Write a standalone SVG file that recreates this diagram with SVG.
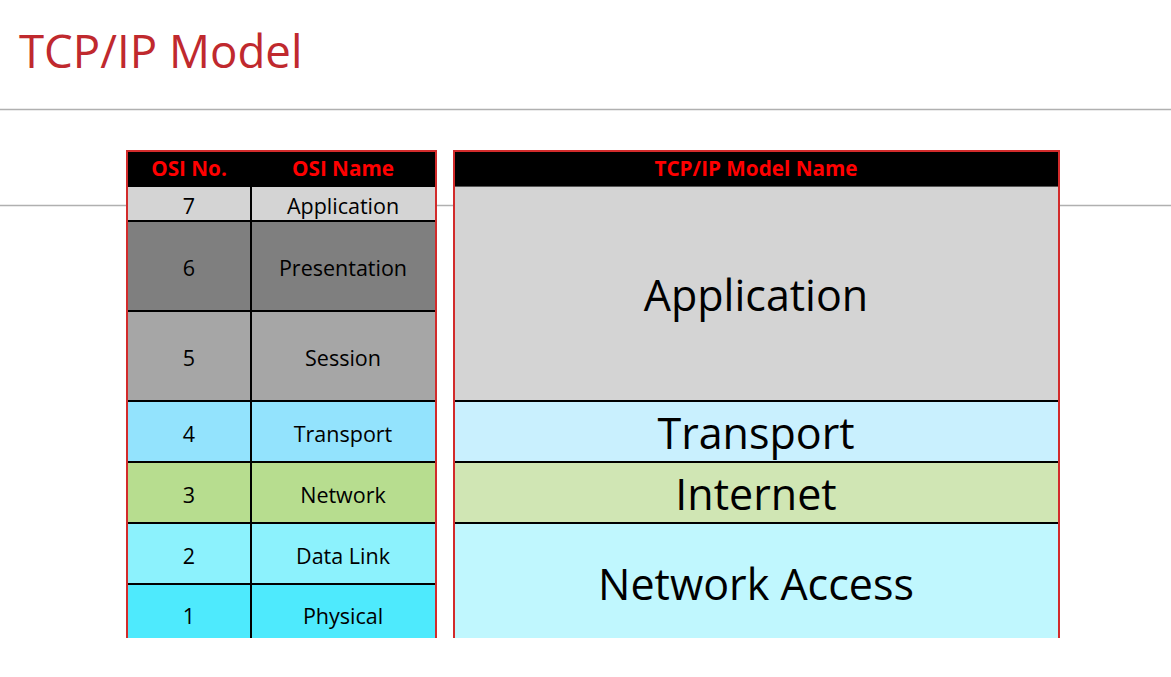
<svg xmlns="http://www.w3.org/2000/svg" width="1171" height="677" viewBox="0 0 1171 677">
  <style>
    .title { font-family: "Open Sans", "Noto Sans", sans-serif; font-size: 45.6px; fill: #c0292e; }
    .hdr { font-family: "Open Sans", "Noto Sans", sans-serif; font-size: 20.7px; font-weight: bold; fill: #ff0000; text-anchor: middle; }
    .cell { font-family: "Open Sans", "Noto Sans", sans-serif; font-size: 21.5px; fill: #000; text-anchor: middle; dominant-baseline: central; }
    .big { font-family: "Open Sans", "Noto Sans", sans-serif; font-size: 43px; fill: #000; text-anchor: middle; dominant-baseline: central; }
    .grid { stroke: #000; stroke-width: 2; }
    .frame { fill: none; stroke: #d22b2b; stroke-width: 2; }
    .rule { stroke: #b0b0b0; stroke-width: 1.5; }
  </style>

  <!-- page title and rules -->
  <text class="title" x="19" y="68">TCP/IP Model</text>
  <line class="rule" x1="0" y1="109.5" x2="1171" y2="109.5" stroke="#c8c8c8"/>
  <g id="divider">
    <line class="rule" x1="0" y1="205.5" x2="127" y2="205.5"/>
    <line class="rule" x1="436" y1="205.5" x2="454" y2="205.5"/>
    <line class="rule" x1="1059" y1="205.5" x2="1171" y2="205.5"/>
  </g>

  <!-- OSI table -->
  <g id="osi-table">
    <rect x="127" y="151" width="309" height="35" fill="#000"/>
    <text class="hdr" x="189" y="176">OSI No.</text>
    <text class="hdr" x="343" y="176">OSI Name</text>

    <g id="osi-7">
      <rect x="127" y="186" width="309" height="35" fill="#d4d4d4"/>
      <text class="cell" x="189" y="205">7</text>
      <text class="cell" x="343" y="205">Application</text>
    </g>
    <g id="osi-6">
      <rect x="127" y="221" width="309" height="90" fill="#7f7f7f"/>
      <text class="cell" x="189" y="267">6</text>
      <text class="cell" x="343" y="267">Presentation</text>
    </g>
    <g id="osi-5">
      <rect x="127" y="311" width="309" height="90" fill="#a6a6a6"/>
      <text class="cell" x="189" y="357">5</text>
      <text class="cell" x="343" y="357">Session</text>
    </g>
    <g id="osi-4">
      <rect x="127" y="401" width="309" height="61" fill="#93e3fd"/>
      <text class="cell" x="189" y="433">4</text>
      <text class="cell" x="343" y="433">Transport</text>
    </g>
    <g id="osi-3">
      <rect x="127" y="462" width="309" height="61" fill="#b7dd8f"/>
      <text class="cell" x="189" y="494">3</text>
      <text class="cell" x="343" y="494">Network</text>
    </g>
    <g id="osi-2">
      <rect x="127" y="523" width="309" height="61" fill="#8cf2fd"/>
      <text class="cell" x="189" y="555">2</text>
      <text class="cell" x="343" y="555">Data Link</text>
    </g>
    <g id="osi-1">
      <rect x="127" y="584" width="309" height="54" fill="#4eeafd"/>
      <text class="cell" x="189" y="615">1</text>
      <text class="cell" x="343" y="615">Physical</text>
    </g>

    <!-- cell grid -->
    <line class="grid" x1="251" y1="186" x2="251" y2="638"/>
    <line class="grid" x1="127" y1="186" x2="436" y2="186"/>
    <line class="grid" x1="127" y1="221" x2="436" y2="221"/>
    <line class="grid" x1="127" y1="311" x2="436" y2="311"/>
    <line class="grid" x1="127" y1="401" x2="436" y2="401"/>
    <line class="grid" x1="127" y1="462" x2="436" y2="462"/>
    <line class="grid" x1="127" y1="523" x2="436" y2="523"/>
    <line class="grid" x1="127" y1="584" x2="436" y2="584"/>
    <path class="frame" d="M127,638 V151 H436 V638"/>
  </g>

  <!-- TCP/IP table -->
  <g id="tcpip-table">
    <rect x="454" y="151" width="605" height="35" fill="#000"/>
    <text class="hdr" x="756" y="176">TCP/IP Model Name</text>

    <g id="tcp-application">
      <rect x="454" y="186" width="605" height="215" fill="#d4d4d4"/>
      <text class="big" x="756" y="294">Application</text>
    </g>
    <g id="tcp-transport">
      <rect x="454" y="401" width="605" height="61" fill="#c9f0fe"/>
      <text class="big" x="756" y="432">Transport</text>
    </g>
    <g id="tcp-internet">
      <rect x="454" y="462" width="605" height="61" fill="#d0e6b4"/>
      <text class="big" x="756" y="493">Internet</text>
    </g>
    <g id="tcp-network-access">
      <rect x="454" y="523" width="605" height="115" fill="#c0f7fe"/>
      <text class="big" x="756" y="583">Network Access</text>
    </g>

    <line class="grid" x1="454" y1="186" x2="1059" y2="186" stroke-opacity="0.6"/>
    <line class="grid" x1="454" y1="401" x2="1059" y2="401"/>
    <line class="grid" x1="454" y1="462" x2="1059" y2="462"/>
    <line class="grid" x1="454" y1="523" x2="1059" y2="523"/>
    <path class="frame" d="M454,638 V151 H1059 V638"/>
  </g>
</svg>
